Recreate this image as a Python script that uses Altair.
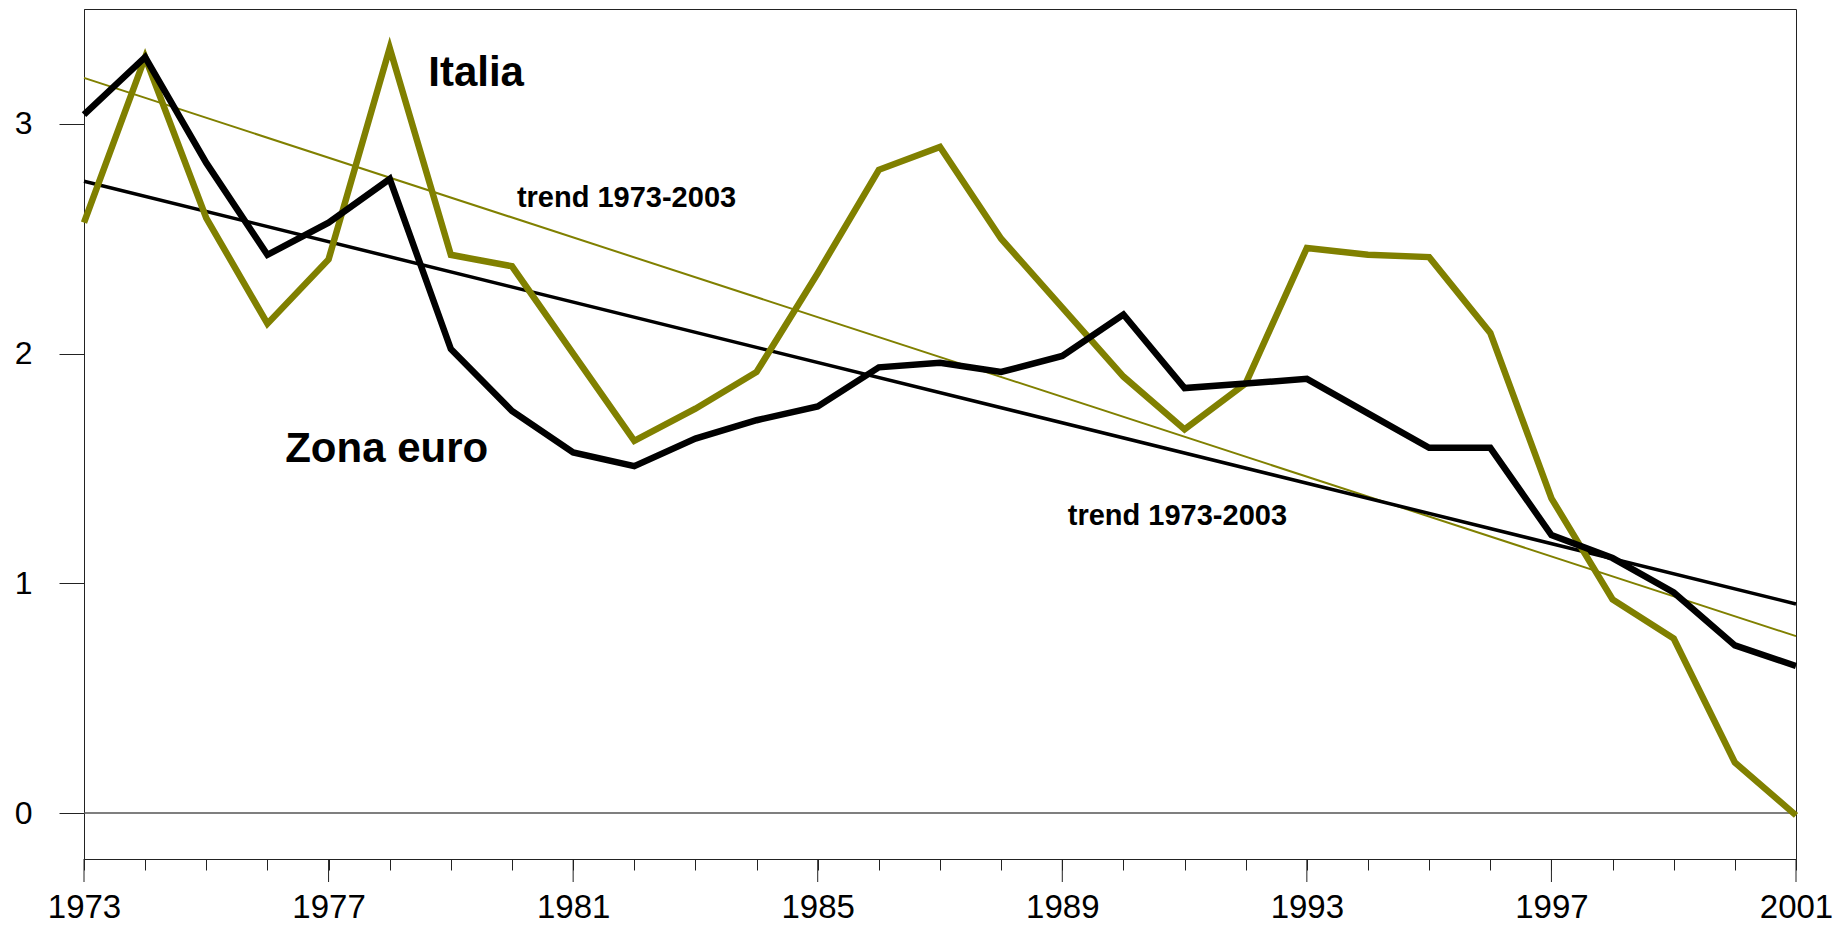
import altair as alt
import pandas as pd

# ---- data ----
years = list(range(1973, 2002))
italia = [2.57, 3.29, 2.59, 2.13, 2.41, 3.33, 2.43, 2.38, 2.00, 1.62,
          1.76, 1.92, 2.35, 2.80, 2.90, 2.50, 2.20, 1.90, 1.67, 1.87,
          2.46, 2.43, 2.42, 2.09, 1.37, 0.93, 0.76, 0.22, -0.01]
zona_euro = [3.04, 3.29, 2.83, 2.43, 2.57, 2.76, 2.02, 1.75, 1.57, 1.51,
             1.63, 1.71, 1.77, 1.94, 1.96, 1.92, 1.99, 2.17, 1.85, 1.87,
             1.89, 1.74, 1.59, 1.59, 1.21, 1.11, 0.96, 0.73, 0.64]
trend_years = [1973, 2001]
trend_italia = [3.20, 0.77]
trend_zona = [2.75, 0.91]
major_years = [1973, 1977, 1981, 1985, 1989, 1993, 1997, 2001]
y_ticks = [0, 1, 2, 3]

FONT = "Liberation Sans, Arial, sans-serif"
OLIVE = "#808000"
W, H = 1712, 850

xs = alt.Scale(domain=[1973, 2001], nice=False, zero=False)
ys = alt.Scale(domain=[-0.2, 3.5], nice=False, zero=False)

x_axis = alt.Axis(values=years, tickSize=11, labelPadding=21,
                  labelExpr="(datum.value - 1973) % 4 == 0 ? datum.label : ''",
                  format="d", labelFontSize=33, labelFont=FONT, labelColor="black",
                  labelFlush=False, labelOverlap=False, labelAngle=0,
                  domainColor="#222", tickColor="#222", domainWidth=1, tickWidth=1,
                  grid=False, title=None)
y_axis = alt.Axis(values=y_ticks, tickSize=25, labelPadding=27, labelFontSize=32,
                  labelFont=FONT, labelColor="black", format="d",
                  labelFlush=False, labelOverlap=False,
                  domainColor="#222", tickColor="#222", domainWidth=1, tickWidth=1,
                  grid=False, title=None)

df_it = pd.DataFrame({"year": years, "value": italia})
df_ze = pd.DataFrame({"year": years, "value": zona_euro})
df_tit = pd.DataFrame({"year": trend_years, "value": trend_italia})
df_tze = pd.DataFrame({"year": trend_years, "value": trend_zona})

zero = alt.Chart(pd.DataFrame({"v": [0]})).mark_rule(color="#555", strokeWidth=1.5).encode(
    y=alt.Y("v:Q", scale=ys, axis=y_axis, title=None))

def line(df, color, width):
    return alt.Chart(df).mark_line(color=color, strokeWidth=width, strokeJoin="miter").encode(
        x=alt.X("year:Q", scale=xs, axis=x_axis, title=None),
        y=alt.Y("value:Q", scale=ys, axis=y_axis, title=None),
    )

t_it = line(df_tit, OLIVE, 2)
t_ze = line(df_tze, "black", 3.5)
l_it = line(df_it, OLIVE, 6.5)
l_ze = line(df_ze, "black", 6.5)

def label(text, xv, yv, size):
    return alt.Chart(pd.DataFrame({"t": [text]})).mark_text(
        align="left", baseline="alphabetic", fontSize=size, fontWeight="bold",
        font=FONT, color="black").encode(
        x=alt.XDatum(xv, type="quantitative", scale=xs, axis=x_axis, title=None),
        y=alt.YDatum(yv, type="quantitative", scale=ys, axis=y_axis, title=None),
        text="t:N")

lab_it = label("Italia", 1978.63, 3.165, 42)
lab_ze = label("Zona euro", 1976.29, 1.528, 42)
lab_t1 = label("trend 1973-2003", 1980.08, 2.640, 29)
lab_t2 = label("trend 1973-2003", 1989.09, 1.254, 29)

major = alt.Chart(pd.DataFrame({"year": major_years})).mark_rule(
    color="#222", strokeWidth=1).encode(
    x=alt.X("year:Q", scale=xs, axis=x_axis, title=None),
    y=alt.value(H), y2=alt.value(H + 23))

chart = alt.layer(zero, t_it, t_ze, l_it, l_ze, lab_it, lab_ze, lab_t1, lab_t2, major).properties(
    width=W, height=H,
    padding={"left": 76, "top": 1, "right": 43, "bottom": 66},
    autosize=alt.AutoSizeParams(type="none"),
).configure_view(stroke="#222", strokeWidth=1)

chart.save("out.html", embed_options={"renderer": "svg", "actions": False})
